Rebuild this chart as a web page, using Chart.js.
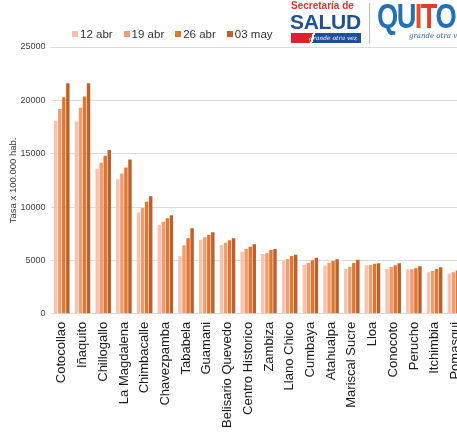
<!DOCTYPE html>
<html lang="es">
<head>
    <meta charset="UTF-8">
    <title>Tasa x 100.000 hab.</title>
    <script src="https://cdn.jsdelivr.net/npm/chart.js"></script>
    <style>
        html, body { margin: 0; padding: 0; background: #fff; overflow: hidden; width: 457px; height: 432px; }
        body { font-family: "Liberation Sans", Arial, sans-serif; position: relative; }
        #wrap { position: absolute; left: 0; top: 0; width: 479px; height: 432px; }
        #legend { position: absolute; left: 72px; top: 28px; display: flex; gap: 11px; font-size: 11.5px; line-height: 12px; color: #333; }
        #legend span.box { display: inline-block; width: 6px; height: 6px; margin-right: 2px; vertical-align: 1px; }
        .sec { position: absolute; left: 291px; top: 1px; font-size: 10px; line-height: 10px; font-weight: bold; color: #e0312f; white-space: nowrap; }
        .salud { position: absolute; left: 290px; top: 11px; font-size: 21px; line-height: 21px; font-weight: bold; color: #1f4f95; letter-spacing: -0.3px; }
        .stripe { position: absolute; left: 291px; top: 33px; width: 70px; height: 10px;
                  background: linear-gradient(105deg, #d9232d 0 30%, #fff 30% 33%, #1f4f95 33% 100%);
                  font: italic 6px "DejaVu Serif", serif; color: #fff; text-align: right; line-height: 10px; padding-right: 4px; box-sizing: border-box; }
        .divider { position: absolute; left: 369px; top: 3px; width: 1px; height: 41px; background: #bbb; }
        .quito { position: absolute; left: 377px; top: -2px; font-size: 35px; line-height: 35px; font-weight: bold; letter-spacing: -2px;
                 transform: scaleX(0.78); transform-origin: left top; color: #2470b8; white-space: nowrap; }
        .quito .i { color: #e8502a; }
        .quito .t { color: #e23b2f; }
        .tag { position: absolute; left: 409px; top: 32px; font: italic 7px "DejaVu Serif", serif; color: #2a5ea8; white-space: nowrap; }
    </style>
</head>
<body>
    <div id="wrap"><canvas id="chart" width="479" height="432"></canvas></div>
    <div id="legend"></div>

    <div class="sec">Secretaría de</div>
    <div class="salud">SALUD</div>
    <div class="stripe">grande otra vez</div>
    <div class="divider"></div>
    <div class="quito">QU<span class="i">I</span><span class="t">T</span>O</div>
    <div class="tag">grande otra vez</div>

    <script>
        // parroquias, ordered by rate
        const categories = ['Cotocollao', 'Iñaquito', 'Chillogallo', 'La Magdalena', 'Chimbacalle', 'Chavezpamba',
            'Tababela', 'Guamani', 'Belisario Quevedo', 'Centro Historico', 'Zambiza', 'Llano Chico', 'Cumbaya',
            'Atahualpa', 'Mariscal Sucre', 'Lloa', 'Conocoto', 'Perucho', 'Itchimbia', 'Pomasqui'];

        const seriesNames = ['12 abr', '19 abr', '26 abr', '03 may'];
        const seriesColors = ['#f6c3ad', '#f09b70', '#e07630', '#c15f28'];

        const abr12 = [18100, 18000, 13600, 12600, 9500, 8320, 5390, 6940, 6450, 5820, 5600, 4970, 4570, 4500, 4220, 4570, 4220, 4170, 3890, 3780];
        const abr19 = [19200, 19300, 14150, 13150, 9920, 8630, 6420, 7170, 6650, 6070, 5670, 5130, 4760, 4760, 4410, 4570, 4380, 4170, 4010, 3890];
        const abr26 = [20300, 20350, 14800, 13700, 10500, 8950, 7080, 7390, 6900, 6290, 5980, 5420, 5010, 4950, 4760, 4690, 4540, 4260, 4200, 4060];
        const may03 = [21600, 21600, 15350, 14450, 11020, 9240, 8020, 7650, 7080, 6510, 6070, 5540, 5260, 5110, 5070, 4730, 4730, 4450, 4360, 4150];

        const yTicks = [0, 5000, 10000, 15000, 20000, 25000];

        const values = [abr12, abr19, abr26, may03];

        Chart.defaults.font.family = '"Liberation Sans", Arial, sans-serif';

        // html legend
        const legend = document.getElementById('legend');
        seriesNames.forEach((name, i) => {
            const item = document.createElement('div');
            item.innerHTML = '<span class="box" style="background:' + seriesColors[i] + '"></span>' + name;
            legend.appendChild(item);
        });

        new Chart(document.getElementById('chart').getContext('2d'), {
            type: 'bar',
            data: {
                labels: categories,
                datasets: seriesNames.map((name, i) => ({
                    label: name,
                    data: values[i],
                    backgroundColor: seriesColors[i],
                    borderWidth: 0,
                    barPercentage: 0.85,
                    categoryPercentage: 0.78
                }))
            },
            options: {
                responsive: false,
                animation: false,
                layout: { padding: { top: 47, left: 0, right: 2, bottom: -4 } },
                plugins: {
                    legend: { display: false },
                    tooltip: { enabled: false }
                },
                scales: {
                    x: {
                        grid: { display: false, drawTicks: false },
                        border: { display: false },
                        ticks: {
                            autoSkip: false, maxRotation: 90, minRotation: 90, padding: 8,
                            color: '#1a1a1a', font: { size: 13 }
                        }
                    },
                    y: {
                        min: 0, max: 25000,
                        afterBuildTicks: axis => { axis.ticks = yTicks.map(v => ({ value: v })); },
                        grid: { color: '#dcdcdc', drawTicks: false },
                        border: { display: false },
                        ticks: { color: '#404040', font: { size: 9 }, padding: 6, callback: v => String(v) },
                        title: { display: true, text: 'Tasa x 100.000 hab.', color: '#333', font: { size: 9.5 }, padding: { top: 8, bottom: -5 } }
                    }
                }
            }
        });
    </script>
</body>
</html>
